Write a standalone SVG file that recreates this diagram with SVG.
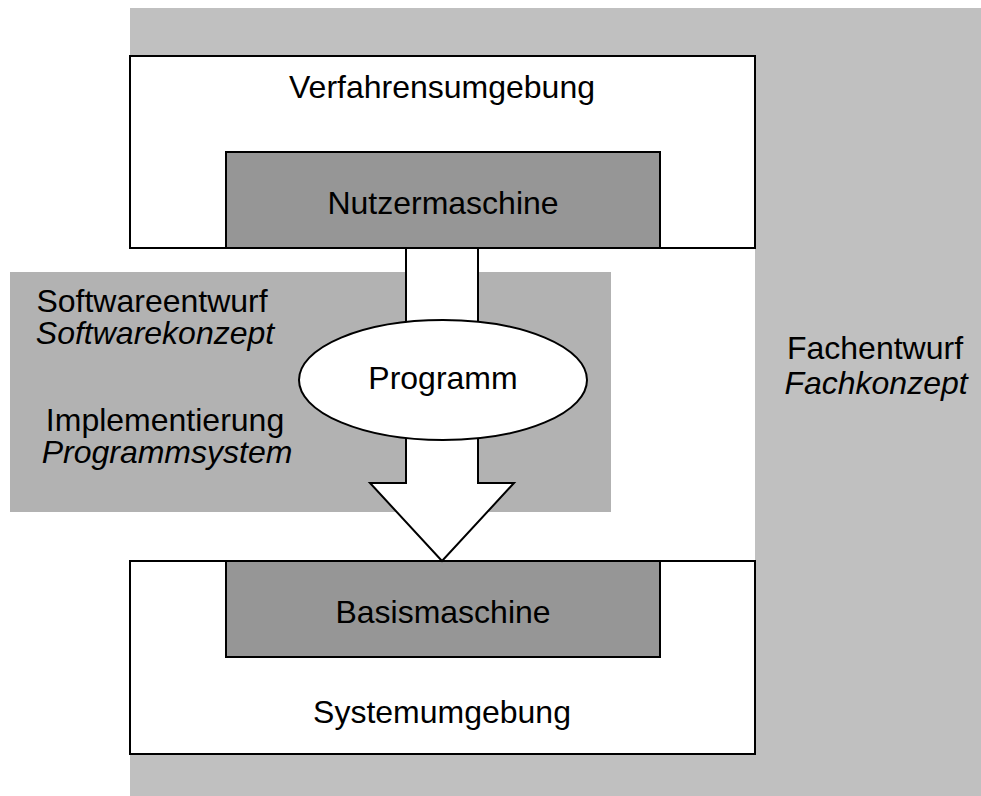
<svg xmlns="http://www.w3.org/2000/svg" width="981" height="796" viewBox="0 0 981 796">
  <style>
    text { font-family: "Liberation Sans", Arial, sans-serif; font-size: 32px; fill: #000; }
    .mid { text-anchor: middle; }
    .it { font-style: italic; }
    .box { fill: #fff; stroke: #000; stroke-width: 2; }
    .machine { fill: #969696; stroke: #000; stroke-width: 2; }
  </style>

  <!-- Fachentwurf: light grey frame around the environments -->
  <g id="fachentwurf">
    <rect x="130" y="8" width="851" height="788" fill="#c0c0c0"/>
    <rect x="130" y="248" width="625" height="313" fill="#fff"/>
    <text class="mid" x="875" y="359">Fachentwurf</text>
    <text class="mid it" x="876" y="394">Fachkonzept</text>
  </g>

  <!-- Softwareentwurf / Implementierung band -->
  <g id="softwareentwurf">
    <rect x="10" y="272" width="601" height="240" fill="#b2b2b2"/>
    <text class="mid" x="152" y="312">Softwareentwurf</text>
    <text class="mid it" x="155" y="344">Softwarekonzept</text>
    <text class="mid" x="165" y="431">Implementierung</text>
    <text class="mid it" x="167" y="463">Programmsystem</text>
  </g>

  <!-- Upper environment -->
  <g id="verfahrensumgebung">
    <rect class="box" x="130" y="56" width="625" height="192"/>
    <text class="mid" x="442" y="98">Verfahrensumgebung</text>
  </g>
  <g id="nutzermaschine">
    <rect class="machine" x="226" y="152" width="434" height="96"/>
    <text class="mid" x="443" y="214">Nutzermaschine</text>
  </g>

  <!-- Lower environment -->
  <g id="systemumgebung">
    <rect class="box" x="130" y="561" width="625" height="193"/>
    <text class="mid" x="442" y="723">Systemumgebung</text>
  </g>
  <g id="basismaschine">
    <rect class="machine" x="226" y="561" width="434" height="96"/>
    <text class="mid" x="443" y="623">Basismaschine</text>
  </g>

  <!-- Block arrow from Nutzermaschine down to Basismaschine -->
  <g id="connectors">
    <path d="M406,248 L478,248 L478,483 L514,483 L442,561 L370,483 L406,483 Z" fill="#fff" stroke="#000" stroke-width="2" stroke-linejoin="miter"/>
  </g>

  <g id="programm">
    <ellipse cx="443" cy="380" rx="144" ry="60" fill="#fff" stroke="#000" stroke-width="2"/>
    <text class="mid" x="443" y="389">Programm</text>
  </g>
</svg>
